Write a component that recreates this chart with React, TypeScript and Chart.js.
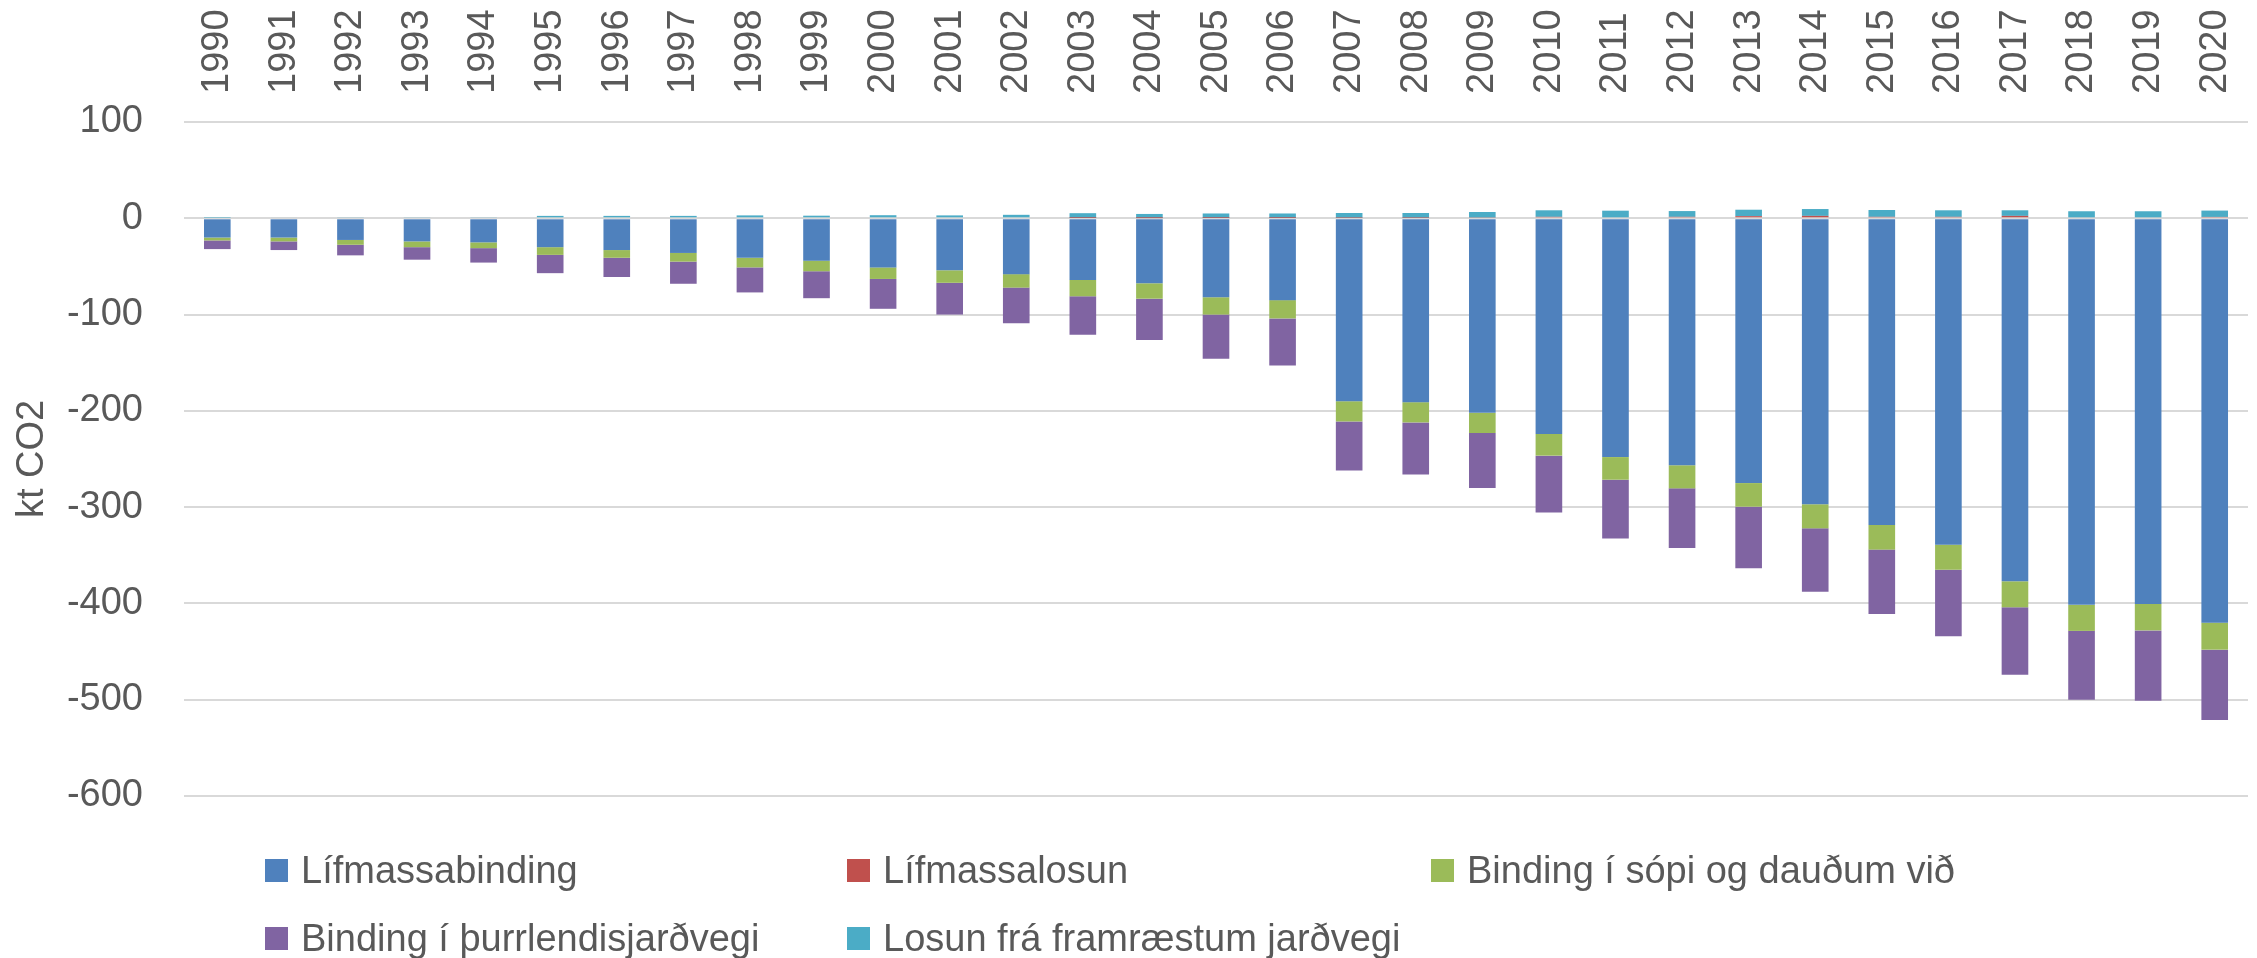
import React, { useEffect, useRef } from "react";
import { Chart, registerables } from "chart.js";

Chart.register(...registerables);

const years = [
  "1990", "1991", "1992", "1993", "1994", "1995", "1996", "1997", "1998", "1999",
  "2000", "2001", "2002", "2003", "2004", "2005", "2006", "2007", "2008", "2009",
  "2010", "2011", "2012", "2013", "2014", "2015", "2016", "2017", "2018", "2019", "2020",
];

const seriesNames = [
  "Lífmassabinding",
  "Lífmassalosun",
  "Binding í sópi og dauðum við",
  "Binding í þurrlendisjarðvegi",
  "Losun frá framræstum jarðvegi",
];

const seriesColors = ["#4f81bd", "#c0504d", "#9bbb59", "#8064a2", "#4bacc6"];

const lifmassabinding = [
  -20, -20, -22.5, -24, -25, -30, -33, -36, -41, -44,
  -51, -54, -58, -64, -67.5, -82, -85, -190, -191, -202,
  -224, -248, -256.5, -275, -297, -318.5, -339, -377, -401.5, -400.5, -420,
];

const lifmassalosun = [
  0, 0, 0, 0, 0, 0, 0, 0, 0, 0,
  0, 0, 0, 0.3, 0.2, 0.3, 0.3, 0.5, 0.5, 0.8,
  1.5, 1, 1.5, 2.2, 2.5, 1.5, 1.5, 2.5, 1, 1, 1.4,
];

const sopiBinding = [
  -3, -4, -5, -6, -6, -8, -8, -9, -10, -11,
  -12, -13, -14, -17, -16, -18, -19, -21, -21, -21,
  -22.5, -23.5, -24, -24.5, -25, -25.6, -26, -27, -27, -27.5, -28,
];

const thurrlendiBinding = [
  -9, -9, -11, -13, -15, -19, -20, -23, -26, -28,
  -31, -33, -37, -40, -43, -46, -49, -51, -54, -57,
  -59, -61, -62, -64, -66, -67, -69, -70, -71.5, -73, -73,
];

const framraestLosun = [
  0.5, 1, 1.2, 1.2, 1.2, 2.5, 2.5, 2.5, 3, 2.7,
  3.2, 3, 3.6, 5, 4.3, 4.7, 4.7, 5, 5, 5.7,
  6.8, 6.9, 6, 6.7, 7.1, 7.1, 6.8, 5.8, 6.3, 6.3, 6.6,
];

const yTitle = "kt CO2";
const yMin = -600;
const yMax = 100;
const yStep = 100;

const FONT = "'Liberation Sans', Arial, sans-serif";
const TEXT = "#595959";
const FS = 38;

export default function App() {
  const canvasRef = useRef<HTMLCanvasElement | null>(null);

  useEffect(() => {
    const canvas = canvasRef.current;
    if (!canvas) return;
    const values = [lifmassabinding, lifmassalosun, sopiBinding, thurrlendiBinding, framraestLosun];
    const chart = new Chart(canvas, {
      type: "bar",
      data: {
        labels: years,
        datasets: seriesNames.map((name, i) => ({
          label: name,
          data: values[i],
          backgroundColor: seriesColors[i],
          borderWidth: 0,
          categoryPercentage: 1,
          barPercentage: 0.4,
        })),
      },
      options: {
        animation: false,
        responsive: false,
        devicePixelRatio: 1,
        layout: { padding: { left: 0, right: 9, top: 0, bottom: 162 } },
        plugins: {
          legend: { display: false },
          tooltip: { enabled: false },
        },
        scales: {
          x: {
            position: "top",
            stacked: true,
            grid: { display: false },
            border: { display: false },
            ticks: {
              autoSkip: false,
              minRotation: 90,
              maxRotation: 90,
              padding: 20,
              labelOffset: 46,
              color: TEXT,
              font: { family: FONT, size: FS },
            },
            afterFit: (s: any) => {
              s.height = 122;
            },
          },
          y: {
            stacked: true,
            min: yMin,
            max: yMax,
            ticks: {
              stepSize: yStep,
              padding: 41,
              color: TEXT,
              font: { family: FONT, size: FS },
            },
            grid: { color: "#d9d9d9", lineWidth: 2, drawTicks: false },
            border: { display: false },
            title: {
              display: true,
              text: yTitle,
              color: TEXT,
              font: { family: FONT, size: FS },
              padding: { top: 10, bottom: 0 },
            },
            afterFit: (s: any) => {
              s.width = 184;
            },
          },
        },
      },
    });
    return () => chart.destroy();
  }, []);

  return (
    <div style={{ position: "absolute", left: 0, top: 0, width: 2257, height: 958, background: "#fff" }}>
      <canvas ref={canvasRef} width={2257} height={958} style={{ width: 2257, height: 958, display: "block" }} />
      <div
        style={{
          position: "absolute",
          left: 265,
          top: 846,
          display: "grid",
          gridTemplateColumns: "582px 584px 582px",
          rowGap: 20,
          fontFamily: FONT,
          fontSize: FS,
          color: TEXT,
          lineHeight: "48px",
        }}
      >
        {seriesNames.map((name, i) => (
          <div key={name} style={{ display: "flex", alignItems: "center", whiteSpace: "nowrap" }}>
            <span style={{ width: 23, height: 23, background: seriesColors[i], marginRight: 13, flex: "none" }} />
            <span>{name}</span>
          </div>
        ))}
      </div>
    </div>
  );
}
